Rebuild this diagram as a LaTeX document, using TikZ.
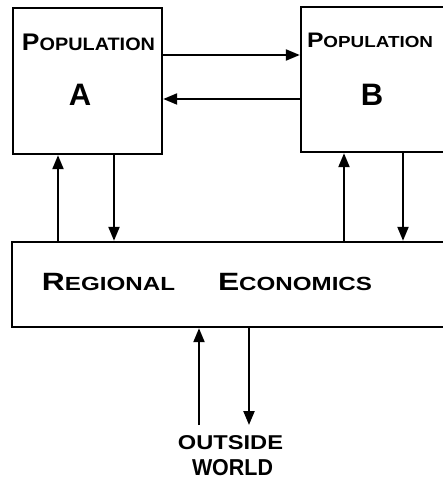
\documentclass[tikz,border=0pt]{standalone}
\usepackage{fontspec}
\usepackage{graphicx}
\newfontfamily\hand{Liberation Sans}
\usetikzlibrary{arrows.meta}
\newcommand{\capsmall}[4]{{\fontsize{#3}{#3}\selectfont #1}{\fontsize{#4}{#4}\selectfont #2}}
\newcommand{\fitw}[2]{\resizebox{#1}{\height}{#2}}
\begin{document}
\begin{tikzpicture}[x=1pt,y=-1pt,
  boxnode/.style={draw,line width=2.4pt,rectangle,inner sep=0pt},
  flow/.style={line width=2.2pt,-{Triangle[length=14pt,width=11pt]}},
  lbl/.style={font=\hand\bfseries,inner sep=0pt,anchor=center}]
\useasboundingbox (0,0) rectangle (443,481);
\node[boxnode,minimum width=149pt,minimum height=146pt] (A) at (87.5,81) {};
\node[boxnode,minimum width=159pt,minimum height=145pt] (B) at (380.5,79.5) {};
\node[boxnode,minimum width=448pt,minimum height=85pt] (E) at (236,284.5) {};
\node[lbl] (tA) at (88.5,42) {\fitw{133pt}{\capsmall{P}{OPULATION}{24}{18}}};
\node[lbl] (lA) at (80,95) {\fontsize{31}{31}\selectfont A};
\node[lbl] (tB) at (370,40) {\fitw{126pt}{\capsmall{P}{OPULATION}{21}{16}}};
\node[lbl] (lB) at (372,95) {\fontsize{31}{31}\selectfont B};
\node[lbl] (tE1) at (108.5,282) {\fitw{133pt}{\capsmall{R}{EGIONAL}{25}{19}}};
\node[lbl] (tE2) at (295,282) {\fitw{154pt}{\capsmall{E}{CONOMICS}{25}{19}}};
\node[lbl] (o1) at (230.5,443) {\fitw{105pt}{\fontsize{20}{20}\selectfont OUTSIDE}};
\node[lbl] (o2) at (232.5,468) {\fitw{81pt}{\fontsize{23}{23}\selectfont WORLD}};
\coordinate (ow1) at (199,425);
\coordinate (ow2) at (249,425);
% A <-> B
\draw[flow] (A.east |- 0,55) -- (B.west |- 0,55);
\draw[flow] (B.west |- 0,99) -- (A.east |- 0,99);
% A <-> E
\draw[flow] (E.north -| 58,0) -- (A.south -| 58,0);
\draw[flow] (A.south -| 114,0) -- (E.north -| 114,0);
% B <-> E
\draw[flow] (E.north -| 344,0) -- (B.south -| 344,0);
\draw[flow] (B.south -| 403,0) -- (E.north -| 403,0);
% E <-> outside
\draw[flow] (ow1) -- (E.south -| ow1);
\draw[flow] (E.south -| ow2) -- (ow2);
\end{tikzpicture}
\end{document}
